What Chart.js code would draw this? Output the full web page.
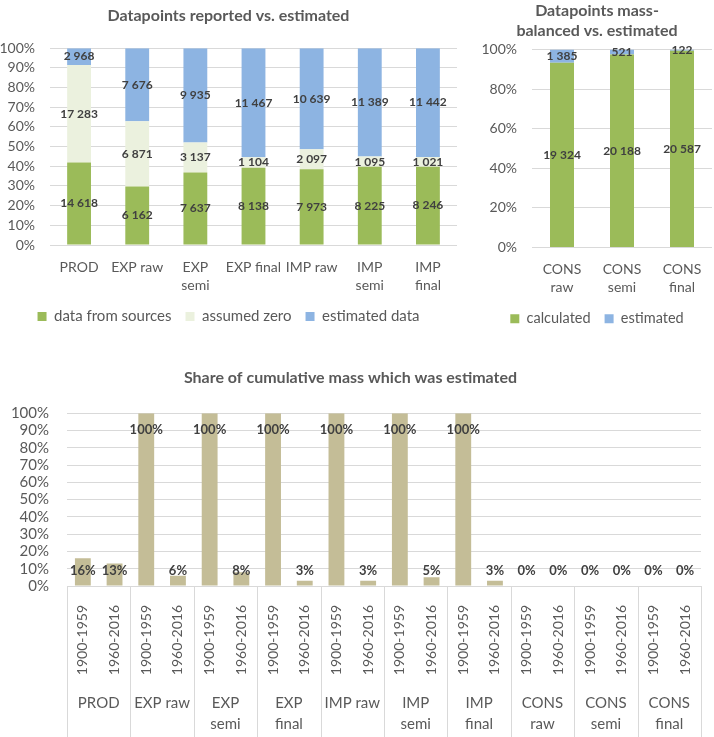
<!DOCTYPE html>
<html>
<head>
<meta charset="utf-8">
<script src="https://cdn.jsdelivr.net/npm/chart.js@4.4.1/dist/chart.umd.min.js"></script>
<style>
  html, body { margin: 0; padding: 0; background: #fff; }
  body { position: relative; width: 714px; height: 737px; overflow: hidden; }
  canvas { position: absolute; }
  #reported { left: 0; top: 0; }
  #balanced { left: 482px; top: 0; }
  #share { left: 0; top: 355px; }
</style>
</head>
<body>
<canvas id="reported" width="470" height="340"></canvas>
<canvas id="balanced" width="232" height="340"></canvas>
<canvas id="share" width="714" height="382"></canvas>
<script>
// ---- data: datapoints reported vs. estimated ----
const reportedCats = ["PROD", "EXP raw", ["EXP", "semi"], "EXP final", "IMP raw", ["IMP", "semi"], ["IMP", "final"]];
const fromSources = [14618, 6162, 7637, 8138, 7973, 8225, 8246];
const assumedZero = [17283, 6871, 3137, 1104, 2097, 1095, 1021];
const estimatedData = [2968, 7676, 9935, 11467, 10639, 11389, 11442];

// ---- data: mass-balanced vs. estimated ----
const consCats = [["CONS", "raw"], ["CONS", "semi"], ["CONS", "final"]];
const calculated = [19324, 20188, 20587];
const consEstimated = [1385, 521, 122];

// ---- data: share of cumulative mass estimated (%) ----
const groups = ["PROD", "EXP raw", ["EXP", "semi"], ["EXP", "final"], "IMP raw", ["IMP", "semi"], ["IMP", "final"], ["CONS", "raw"], ["CONS", "semi"], ["CONS", "final"]];
const periods = ["1900-1959", "1960-2016"];
const share1900 = [16, 100, 100, 100, 100, 100, 100, 0, 0, 0];
const share1960 = [13, 6, 8, 3, 3, 5, 3, 0, 0, 0];

const FONT = "Lato, 'Open Sans', sans-serif";
const GREY = "#595959";
const LABEL = "#404040";
const GRID = "#D9D9D9";
Chart.defaults.font.family = FONT;
Chart.defaults.color = GREY;

const spaced = (n) => String(n).replace(/\B(?=(\d{3})+(?!\d))/g, " ");

// shares of each stack, so the bars fill 100%
function toShares(seriesList) {
  const totals = seriesList[0].map((_, i) => seriesList.reduce((s, arr) => s + arr[i], 0));
  return seriesList.map((arr) => arr.map((v, i) => v / totals[i]));
}

// value labels drawn on the bars
const valueLabels = {
  id: "valueLabels",
  afterDatasetsDraw(chart, args, opts) {
    const { ctx } = chart;
    const zero = chart.scales.y.getPixelForValue(0);
    ctx.save();
    ctx.font = `bold ${opts.size}px ${FONT}`;
    ctx.fillStyle = LABEL;
    ctx.textAlign = "center";
    ctx.textBaseline = "middle";
    chart.data.datasets.forEach((ds, di) => {
      chart.getDatasetMeta(di).data.forEach((bar, i) => {
        const shown = ds.shown ? ds.shown[i] : ds.data[i];
        if (opts.mode === "top") {
          const y = Math.min(bar.y + 17, zero - 15);
          ctx.fillText(shown + "%", bar.x, y);
        } else {
          ctx.fillText(spaced(shown), bar.x, (bar.y + bar.base) / 2);
        }
      });
    });
    ctx.restore();
  },
};

// vertical separators between the category groups
const groupLines = {
  id: "groupLines",
  afterDraw(chart) {
    const xs = chart.scales.x;
    const step = xs.width / xs.ticks.length;
    const { ctx } = chart;
    ctx.save();
    ctx.strokeStyle = GRID;
    ctx.lineWidth = 1;
    for (let g = 0; g <= groups.length; g++) {
      const x = Math.round(xs.left + g * 2 * step) + 0.5;
      ctx.beginPath();
      ctx.moveTo(x, chart.chartArea.bottom);
      ctx.lineTo(x, chart.height);
      ctx.stroke();
    }
    ctx.restore();
  },
};

function pctAxis(step, fontSize, pad, width) {
  return {
    stacked: true,
    min: 0,
    max: 1,
    ticks: { stepSize: step, autoSkip: false, callback: (v) => Math.round(v * 100) + "%", font: { size: fontSize, lineHeight: 1 }, color: GREY, padding: pad },
    grid: { color: GRID, drawTicks: false },
    border: { display: false },
    afterFit: (s) => { s.width = width; },
  };
}

function catAxis(height) {
  return {
    stacked: true,
    grid: { display: false },
    border: { display: false },
    ticks: { font: { size: 14, lineHeight: 1.3 }, color: GREY, padding: 5, maxRotation: 0, autoSkip: false },
    afterFit: (s) => { s.height = height; },
  };
}

function titleOpts(text, top, bottom, lh) {
  return { display: true, text, color: GREY, font: { size: 16, weight: "bold", lineHeight: lh }, padding: { top, bottom } };
}

function legendOpts(size) {
  return { position: "bottom", labels: { boxWidth: 9, boxHeight: 9, font: { size }, color: GREY, padding: 14 } };
}

// ---- chart 1 ----
const rep = toShares([fromSources, assumedZero, estimatedData]);
new Chart(document.getElementById("reported"), {
  type: "bar",
  data: {
    labels: reportedCats,
    datasets: [
      { label: "data from sources", data: rep[0], shown: fromSources, backgroundColor: "#9BBB59" },
      { label: "assumed zero", data: rep[1], shown: assumedZero, backgroundColor: "#EBF1DE" },
      { label: "estimated data", data: rep[2], shown: estimatedData, backgroundColor: "#8DB4E2" },
    ],
  },
  options: {
    responsive: false,
    animation: false,
    categoryPercentage: 1,
    barPercentage: 0.41,
    layout: { padding: { left: 0, right: 13, top: 0, bottom: 6 } },
    plugins: {
      title: titleOpts("Datapoints reported vs. estimated", 6, 23, 1.2),
      legend: legendOpts(15),
      tooltip: { enabled: false },
      valueLabels: { mode: "center", size: 12 },
    },
    scales: { x: catAxis(50), y: pctAxis(0.1, 14, 15, 50) },
  },
  plugins: [valueLabels],
});

// ---- chart 2 ----
const bal = toShares([calculated, consEstimated]);
new Chart(document.getElementById("balanced"), {
  type: "bar",
  data: {
    labels: consCats,
    datasets: [
      { label: "calculated", data: bal[0], shown: calculated, backgroundColor: "#9BBB59" },
      { label: "estimated", data: bal[1], shown: consEstimated, backgroundColor: "#8DB4E2" },
    ],
  },
  options: {
    responsive: false,
    animation: false,
    categoryPercentage: 1,
    barPercentage: 0.4,
    layout: { padding: { left: 0, right: 2, top: 0, bottom: 4 } },
    plugins: {
      title: titleOpts(["Datapoints mass-", "balanced vs. estimated"], 0, 8, 1.3),
      legend: legendOpts(14.5),
      tooltip: { enabled: false },
      valueLabels: { mode: "center", size: 12 },
    },
    scales: { x: catAxis(50), y: pctAxis(0.2, 14, 15, 50) },
  },
  plugins: [valueLabels],
});

// ---- chart 3 ----
const shareLabels = [];
const shareValues = [];
groups.forEach((g, i) => {
  shareLabels.push(periods[0], periods[1]);
  shareValues.push(share1900[i], share1960[i]);
});

new Chart(document.getElementById("share"), {
  type: "bar",
  data: {
    labels: shareLabels,
    datasets: [
      { label: "estimated share", data: shareValues.map((v) => v / 100), shown: shareValues, backgroundColor: "#C4BD97" },
    ],
  },
  options: {
    responsive: false,
    animation: false,
    categoryPercentage: 1,
    barPercentage: 0.5,
    layout: { padding: { left: 0, right: 13, top: 0, bottom: 0 } },
    plugins: {
      title: titleOpts("Share of cumulative mass which was estimated", 13, 26, 1.2),
      legend: { display: false },
      tooltip: { enabled: false },
      valueLabels: { mode: "top", size: 13 },
    },
    scales: {
      x: {
        grid: { display: false },
        border: { display: false },
        ticks: { font: { size: 14 }, color: GREY, padding: 11, minRotation: 90, maxRotation: 90, autoSkip: false },
        afterFit: (s) => { s.height = 95; },
      },
      x2: {
        type: "category",
        labels: groups,
        position: "bottom",
        weight: 1,
        offset: true,
        grid: { display: false },
        border: { display: false },
        ticks: { font: { size: 15, lineHeight: 1.45 }, color: GREY, padding: 3, maxRotation: 0, autoSkip: false },
        afterFit: (s) => { s.height = 56; },
      },
      y: { ...pctAxis(0.1, 15, 18, 67), stacked: false },
    },
  },
  plugins: [valueLabels, groupLines],
});
</script>
</body>
</html>
